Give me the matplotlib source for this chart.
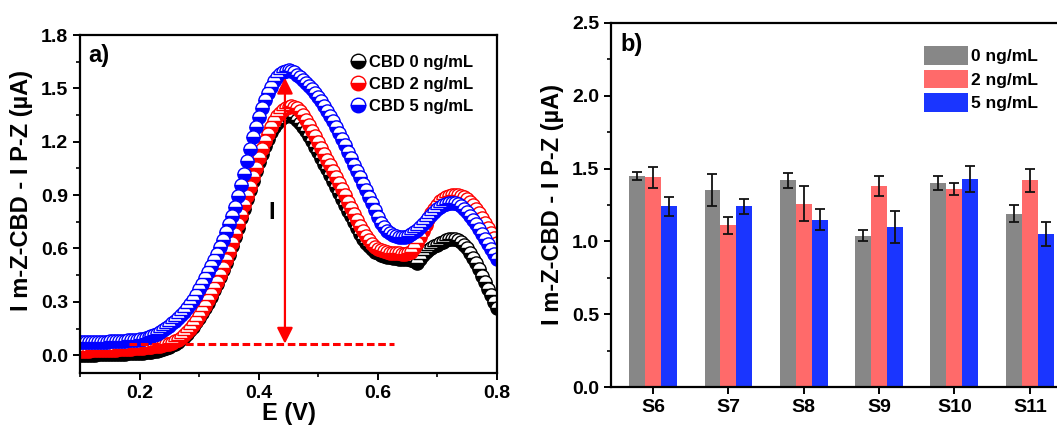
import numpy as np
from matplotlib import pyplot as plt
from matplotlib.ticker import MultipleLocator

plt.rcParams['font.family'] = ['Liberation Sans', 'DejaVu Sans']
plt.rcParams['font.weight'] = 'bold'

# ---- panel a: DPV curves ----
potential = np.linspace(0.1, 0.8, 141)  # E (V), 5 mV steps

cbd_0 = [
    0.002, 0.002, 0.003, 0.003, 0.004, 0.004, 0.005, 0.005, 0.006, 0.006,
    0.007, 0.007, 0.008, 0.008, 0.009, 0.009, 0.010, 0.010, 0.011, 0.012,
    0.013, 0.014, 0.016, 0.018, 0.020, 0.023, 0.026, 0.030, 0.035, 0.041,
    0.048, 0.056, 0.065, 0.076, 0.089, 0.104, 0.121, 0.140, 0.161, 0.184,
    0.209, 0.236, 0.265, 0.296, 0.329, 0.364, 0.400, 0.438, 0.478, 0.520,
    0.565, 0.613, 0.664, 0.717, 0.771, 0.824, 0.876, 0.928, 0.980, 1.033,
    1.085, 1.133, 1.177, 1.217, 1.252, 1.281, 1.305, 1.324, 1.338, 1.347,
    1.350, 1.347, 1.338, 1.324, 1.306, 1.284, 1.259, 1.232, 1.203, 1.172,
    1.141, 1.109, 1.077, 1.044, 1.011, 0.978, 0.945, 0.912, 0.879, 0.846,
    0.813, 0.780, 0.747, 0.715, 0.684, 0.656, 0.632, 0.612, 0.596, 0.583,
    0.573, 0.565, 0.559, 0.554, 0.550, 0.547, 0.545, 0.543, 0.542, 0.541,
    0.540, 0.537, 0.530, 0.518, 0.540, 0.565, 0.580, 0.592, 0.603, 0.613,
    0.622, 0.631, 0.639, 0.646, 0.651, 0.653, 0.652, 0.646, 0.636, 0.621,
    0.601, 0.577, 0.549, 0.518, 0.484, 0.448, 0.411, 0.374, 0.337, 0.300,
    0.265,
]

cbd_2 = [
    0.025, 0.025, 0.026, 0.026, 0.027, 0.027, 0.028, 0.028, 0.029, 0.030,
    0.030, 0.031, 0.032, 0.033, 0.034, 0.035, 0.036, 0.037, 0.038, 0.039,
    0.040, 0.042, 0.044, 0.046, 0.048, 0.050, 0.052, 0.054, 0.057, 0.061,
    0.065, 0.071, 0.078, 0.087, 0.098, 0.112, 0.128, 0.147, 0.169, 0.193,
    0.219, 0.247, 0.277, 0.309, 0.343, 0.378, 0.414, 0.452, 0.492, 0.535,
    0.581, 0.630, 0.682, 0.736, 0.790, 0.843, 0.895, 0.947, 1.000, 1.055,
    1.108, 1.158, 1.204, 1.246, 1.284, 1.316, 1.342, 1.362, 1.378, 1.389,
    1.396, 1.399, 1.396, 1.387, 1.374, 1.352, 1.324, 1.294, 1.263, 1.231,
    1.199, 1.166, 1.133, 1.100, 1.067, 1.034, 1.000, 0.966, 0.932, 0.898,
    0.864, 0.830, 0.796, 0.762, 0.729, 0.698, 0.670, 0.646, 0.626, 0.610,
    0.598, 0.590, 0.584, 0.580, 0.577, 0.575, 0.573, 0.572, 0.571, 0.571,
    0.572, 0.578, 0.600, 0.630, 0.663, 0.698, 0.733, 0.766, 0.797, 0.824,
    0.847, 0.866, 0.880, 0.890, 0.897, 0.901, 0.902, 0.900, 0.895, 0.887,
    0.876, 0.861, 0.843, 0.822, 0.798, 0.772, 0.745, 0.717, 0.689, 0.661,
    0.633,
]

cbd_5 = [
    0.072, 0.073, 0.073, 0.074, 0.074, 0.075, 0.075, 0.076, 0.076, 0.077,
    0.078, 0.079, 0.079, 0.080, 0.081, 0.082, 0.083, 0.084, 0.086, 0.088,
    0.090, 0.093, 0.097, 0.101, 0.106, 0.112, 0.120, 0.129, 0.140, 0.152,
    0.165, 0.179, 0.194, 0.208, 0.224, 0.243, 0.263, 0.286, 0.312, 0.340,
    0.370, 0.401, 0.433, 0.466, 0.500, 0.535, 0.571, 0.609, 0.649, 0.692,
    0.737, 0.785, 0.836, 0.893, 0.955, 1.020, 1.090, 1.160, 1.225, 1.285,
    1.340, 1.390, 1.435, 1.475, 1.510, 1.540, 1.563, 1.580, 1.593, 1.600,
    1.603, 1.600, 1.592, 1.578, 1.563, 1.548, 1.532, 1.514, 1.495, 1.474,
    1.451, 1.427, 1.401, 1.374, 1.345, 1.314, 1.282, 1.249, 1.215, 1.180,
    1.144, 1.108, 1.072, 1.036, 1.000, 0.964, 0.928, 0.891, 0.854, 0.815,
    0.778, 0.745, 0.718, 0.698, 0.685, 0.676, 0.669, 0.666, 0.665, 0.667,
    0.672, 0.680, 0.690, 0.703, 0.718, 0.735, 0.753, 0.771, 0.789, 0.806,
    0.821, 0.834, 0.844, 0.851, 0.855, 0.856, 0.854, 0.848, 0.838, 0.824,
    0.806, 0.785, 0.762, 0.737, 0.710, 0.682, 0.653, 0.624, 0.596, 0.568,
    0.540,
]

curve_labels = ['CBD 0 ng/mL', 'CBD 2 ng/mL', 'CBD 5 ng/mL']
curve_colors = ['black', '#ff0000', '#0000ff']

# ---- panel b: bar chart ----
samples = ['S6', 'S7', 'S8', 'S9', 'S10', 'S11']
bar_labels = ['0 ng/mL', '2 ng/mL', '5 ng/mL']
mean_0 = [1.45, 1.35, 1.42, 1.04, 1.40, 1.19]
mean_2 = [1.44, 1.11, 1.26, 1.38, 1.36, 1.42]
mean_5 = [1.24, 1.24, 1.15, 1.10, 1.43, 1.05]
err_0 = [0.03, 0.11, 0.05, 0.04, 0.05, 0.06]
err_2 = [0.07, 0.06, 0.12, 0.07, 0.04, 0.08]
err_5 = [0.065, 0.05, 0.07, 0.11, 0.09, 0.08]
bar_colors = ['#878787', '#ff6a6a', '#1a35ff']

fig = plt.figure(figsize=(10.57, 4.29), dpi=100)
ax1 = fig.add_axes([0.0757, 0.1305, 0.3945, 0.7879])
ax2 = fig.add_axes([0.578, 0.0979, 0.439, 0.8485])

for ys, lab, col in zip([cbd_0, cbd_2, cbd_5], curve_labels, curve_colors):
    ax1.plot(potential, ys, linestyle='none', marker='o', markersize=9.5,
             fillstyle='bottom', markerfacecolor=col, markerfacecoloralt='white',
             markeredgecolor=col, markeredgewidth=1.0, label=lab)

# baseline and peak-height arrow
ax1.plot([0.183, 0.627], [0.065, 0.065], color='#ff0000', lw=2.2,
         linestyle=(0, (2.5, 1.2)))
ax1.annotate('', xy=(0.444, 0.065), xytext=(0.444, 1.56),
             arrowprops=dict(arrowstyle='<|-|>', color='#ff0000', lw=1.6,
                             mutation_scale=24, shrinkA=0, shrinkB=0))
ax1.text(0.422, 0.80, 'I', fontsize=17, fontweight='bold', ha='center', va='center')
ax1.text(0.02, 0.94, 'a)', transform=ax1.transAxes, fontsize=17,
         fontweight='bold', ha='left', va='center')

ax1.set_xlim(0.1, 0.8)
ax1.set_ylim(-0.1, 1.8)
ax1.xaxis.set_major_locator(MultipleLocator(0.2))
ax1.xaxis.set_minor_locator(MultipleLocator(0.1))
ax1.yaxis.set_major_locator(MultipleLocator(0.3))
ax1.yaxis.set_minor_locator(MultipleLocator(0.15))
ax1.set_xlabel('E (V)', fontsize=17, fontweight='bold', labelpad=0)
ax1.set_ylabel('I m-Z-CBD - I P-Z (µA)', fontsize=17, fontweight='bold')
ax1.yaxis.set_label_coords(-0.113, 0.54)
ax1.legend(loc='upper left', bbox_to_anchor=(0.63, 0.96), frameon=False,
           handletextpad=0.2, labelspacing=0.42, borderaxespad=0.0,
           handlelength=1.0, markerscale=1.1,
           prop={'weight': 'bold', 'size': 12})

x = np.arange(len(samples))
w = 0.212
for i, (m, e, lab, col) in enumerate(zip([mean_0, mean_2, mean_5],
                                         [err_0, err_2, err_5],
                                         bar_labels, bar_colors)):
    ax2.bar(x + (i - 1) * w, m, width=w, color=col, label=lab,
            yerr=e, capsize=3.5,
            error_kw=dict(ecolor='#111111', elinewidth=1.3, capthick=1.3))

ax2.set_xlim(-0.56, 5.6)
ax2.set_ylim(0, 2.5)
ax2.set_xticks(x)
ax2.set_xticklabels(samples)
ax2.yaxis.set_major_locator(MultipleLocator(0.5))
ax2.yaxis.set_minor_locator(MultipleLocator(0.25))
ax2.set_ylabel('I m-Z-CBD - I P-Z (µA)', fontsize=17, fontweight='bold')
ax2.yaxis.set_label_coords(-0.102, 0.5)
ax2.text(0.02, 0.94, 'b)', transform=ax2.transAxes, fontsize=17,
         fontweight='bold', ha='left', va='center')
ax2.legend(loc='upper left', bbox_to_anchor=(0.66, 0.955), frameon=False,
           handlelength=2.5, handleheight=1.25, handletextpad=0.2,
           labelspacing=0.3, borderaxespad=0.0,
           prop={'weight': 'bold', 'size': 12.5})

for ax in (ax1, ax2):
    for s in ax.spines.values():
        s.set_linewidth(1.6)
    ax.tick_params(which='major', direction='out', length=5, width=1.4,
                   labelsize=14)
    ax.tick_params(which='minor', direction='out', length=3, width=1.2)
    for t in ax.get_xticklabels() + ax.get_yticklabels():
        t.set_fontweight('bold')

fig.savefig('out.png', dpi=100)
